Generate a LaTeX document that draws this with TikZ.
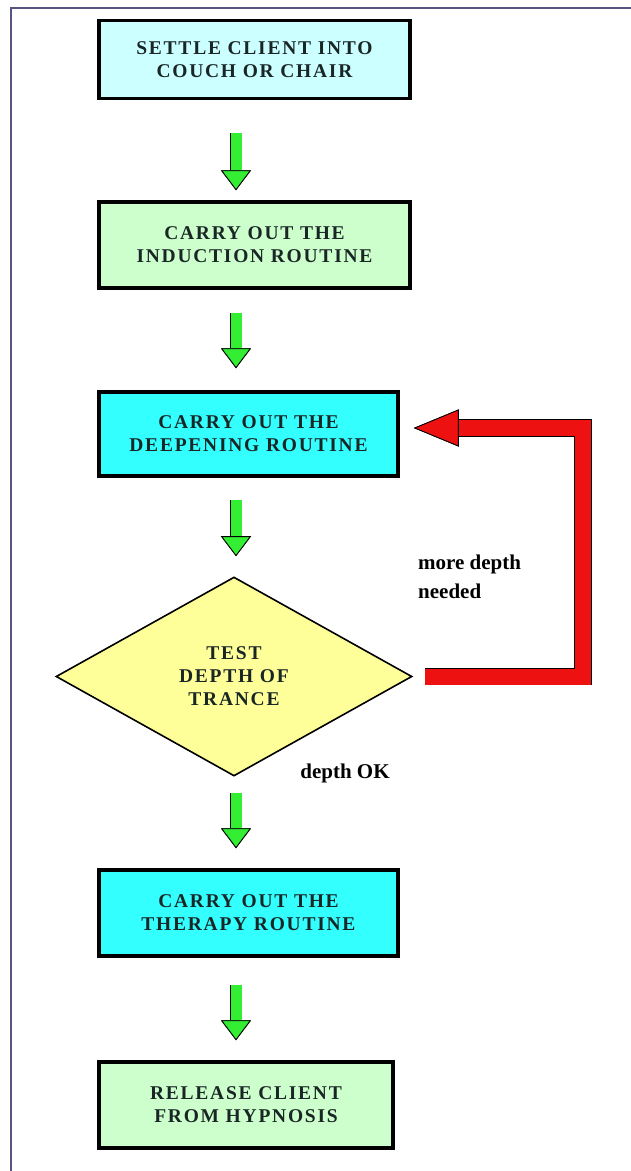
\documentclass[tikz,border=0pt]{standalone}
\usepackage{fontspec}
\setmainfont{Liberation Serif}
\newfontfamily\boxfont[LetterSpace=9]{Liberation Serif}
\usetikzlibrary{shapes.geometric,arrows.meta,calc}

\definecolor{framecol}{HTML}{55557F}
\definecolor{palecyan}{HTML}{CCFFFF}
\definecolor{palegreen}{HTML}{CCFFCC}
\definecolor{brightcyan}{HTML}{33FFFF}
\definecolor{paleyellow}{HTML}{FFFF99}
\definecolor{arrowgreen}{HTML}{33EE33}
\definecolor{loopred}{HTML}{EE1111}
\definecolor{boxtext}{HTML}{1A2626}

\tikzset{
  stepbox/.style={rectangle, draw=black, line width=3.5pt, align=center,
    text=boxtext, font={\boxfont\bfseries\fontsize{19.5}{23}\selectfont}, inner sep=0pt},
  testbox/.style={diamond, draw=black, line width=1.6pt, fill=paleyellow,
    minimum width=356pt, minimum height=199pt, align=center,
    text=boxtext, font={\boxfont\bfseries\fontsize{19.5}{23}\selectfont}, inner sep=0pt},
  remark/.style={text=black, font={\bfseries\fontsize{21}{29}\selectfont},
    align=left, inner sep=0pt},
  downarrow/.style={draw=arrowgreen, line width=11pt,
    -{Triangle[width=30pt,length=20pt,line width=0.8pt,color=black,fill=arrowgreen]},
    preaction={draw=black, line width=12.6pt}},
  looparrow/.style={draw=loopred, line width=16pt, line join=miter,
    -{Triangle[width=37pt,length=45pt,line width=0.8pt,color=black,fill=loopred]},
    preaction={draw=black, line width=17.6pt}},
}

\begin{document}
\begin{tikzpicture}[x=1pt,y=-1pt]
  \useasboundingbox (0,0) rectangle (631,1171);
  \fill[white] (0,0) rectangle (631,1171);
  \draw[framecol, line width=2pt] (632,8) -- (11,8) -- (11,1172);

  % steps
  \node[stepbox, fill=palecyan, minimum width=311pt, minimum height=78pt]
    (settle) at (254.5,59.5) {SETTLE CLIENT INTO\\COUCH OR CHAIR};
  \node[stepbox, fill=palegreen, minimum width=311pt, minimum height=86pt]
    (induct) at (254.5,245) {CARRY OUT THE\\INDUCTION ROUTINE};
  \node[stepbox, fill=brightcyan, minimum width=299pt, minimum height=84pt]
    (deepen) at (248.5,434) {CARRY OUT THE\\DEEPENING ROUTINE};
  \node[testbox] (test) at (234,676.5) {TEST\\DEPTH OF\\TRANCE};
  \node[stepbox, fill=brightcyan, minimum width=299pt, minimum height=86pt]
    (therapy) at (248.5,913) {CARRY OUT THE\\THERAPY ROUTINE};
  \node[stepbox, fill=palegreen, minimum width=294pt, minimum height=86pt]
    (release) at (246,1105) {RELEASE CLIENT\\FROM HYPNOSIS};

  % labels
  \node[remark, anchor=west] (moredepth) at (418,577) {more depth\\needed};
  \node[remark] (depthok) at (345,773) {depth OK};

  % arrows
  \draw[downarrow] ($(settle.south -| test.north)+(2,33)$) -- ($(induct.north -| test.north)+(2,-10)$);
  \draw[downarrow] ($(induct.south -| test.north)+(2,23)$) -- ($(deepen.north -| test.north)+(2,-22)$);
  \draw[downarrow] ($(deepen.south -| test.north)+(2,22)$) -- ($(test.north)+(2,-20)$);
  \draw[downarrow] ($(test.south)+(2,16)$) -- ($(therapy.north -| test.south)+(2,-20)$);
  \draw[downarrow] ($(therapy.south -| test.south)+(2,27)$) -- ($(release.north -| test.south)+(2,-20)$);

  \draw[looparrow] ($(test.east)+(12,0)$) -| ($(deepen.east)+(183,-6)$) -- ($(deepen.east)+(14,-6)$);
\end{tikzpicture}
\end{document}
